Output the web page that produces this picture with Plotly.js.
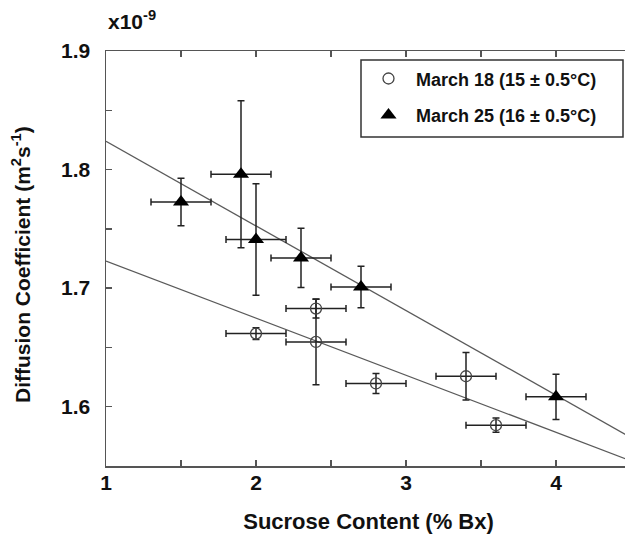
<!DOCTYPE html>
<html>
<head>
<meta charset="utf-8">
<script src="https://cdn.plot.ly/plotly-3.0.1.min.js"></script>
<style>
html, body { margin: 0; padding: 0; overflow: hidden; background: #fff; }
#chart { width: 660px; height: 534px; }
</style>
</head>
<body>
<div id="chart"></div>
<script>
// March 18 (15 ± 0.5°C) – open circles
const mar18X = [2.0, 2.4, 2.4, 2.8, 3.4, 3.6];
const mar18Y = [1.6617, 1.6828, 1.6546, 1.6196, 1.6257, 1.5844];
const mar18ErrY = [0.005, 0.008, 0.036, 0.0085, 0.02, 0.006];
const mar18ErrX = [0.2, 0.2, 0.2, 0.2, 0.2, 0.2];

// March 25 (16 ± 0.5°C) – filled triangles
const mar25X = [1.5, 1.9, 2.0, 2.3, 2.7, 4.0];
const mar25Y = [1.7727, 1.796, 1.741, 1.7255, 1.701, 1.6083];
const mar25ErrY = [0.02, 0.062, 0.047, 0.025, 0.0175, 0.019];
const mar25ErrX = [0.2, 0.2, 0.2, 0.2, 0.2, 0.2];

// fitted lines (end points)
const fitX = [1.0, 4.5];
const fit18Y = [1.7229, 1.5543];
const fit25Y = [1.8239, 1.5740];

const seriesNames = ['March 18 (15 ± 0.5°C)', 'March 25 (16 ± 0.5°C)'];
const xTitle = 'Sucrose Content (% Bx)';
const yTitle = 'Diffusion Coefficient (m<sup>2</sup>s<sup>-1</sup>)';
const exponentLabel = 'x10<sup>-9</sup>';

const FONT = 'Liberation Sans, Arial, Helvetica, sans-serif';
const INK = '#111111';
const AXIS = '#555555';

function errBar(arr) {
  return { type: 'data', array: arr, visible: true, color: '#222222', thickness: 1.5, width: 3.5 };
}

const traces = [
  { x: fitX, y: fit18Y, mode: 'lines', line: { color: '#5a5a5a', width: 1.3 }, showlegend: false, hoverinfo: 'skip' },
  { x: fitX, y: fit25Y, mode: 'lines', line: { color: '#5a5a5a', width: 1.3 }, showlegend: false, hoverinfo: 'skip' },
  {
    x: mar18X, y: mar18Y, name: seriesNames[0], mode: 'markers', legendgroup: 'a',
    marker: { symbol: 'circle-open', size: 11, color: '#444444', line: { width: 1.3, color: '#444444' } },
    error_y: errBar(mar18ErrY), error_x: errBar(mar18ErrX)
  },
  {
    x: mar25X, y: mar25Y, name: seriesNames[1], mode: 'markers', legendgroup: 'b',
    marker: { symbol: 'triangle-up', size: 14, color: '#000000' },
    error_y: errBar(mar25ErrY), error_x: errBar(mar25ErrX)
  }
];

const axisCommon = {
  showgrid: false, zeroline: false,
  showline: true, linecolor: AXIS, linewidth: 1.5, mirror: 'ticks',
  ticks: 'inside', ticklen: 6, tickwidth: 1.5, tickcolor: AXIS,
  tickfont: { family: FONT, size: 21, color: INK, weight: 'bold' }
};

const layout = {
  width: 660, height: 534,
  margin: { l: 106, r: 29, t: 51, b: 68 },
  paper_bgcolor: '#ffffff', plot_bgcolor: '#ffffff',
  showlegend: true,
  xaxis: Object.assign({}, axisCommon, {
    range: [1, 4.5], tick0: 1, dtick: 1,
    minor: { dtick: 0.5, ticks: 'inside', ticklen: 6, tickcolor: AXIS, tickwidth: 1.5 },
    ticklabelstandoff: -3,
    title: { text: xTitle, standoff: 27, font: { family: FONT, size: 22, color: INK, weight: 'bold' } }
  }),
  yaxis: Object.assign({}, axisCommon, {
    range: [1.55, 1.9], tick0: 1.6, dtick: 0.1, tickformat: '.1f',
    minor: { dtick: 0.05, ticks: 'inside', ticklen: 6, tickcolor: AXIS, tickwidth: 1.5 },
    ticklabelstandoff: 10
  }),
  legend: {
    x: 0.4857, y: 0.9776, xanchor: 'left', yanchor: 'top',
    bgcolor: 'rgba(0,0,0,0)', borderwidth: 0,
    font: { family: FONT, size: 18, color: INK, weight: 'bold' },
    traceorder: 'grouped', tracegroupgap: 10, itemwidth: 45
  },
  shapes: [{
    type: 'rect', xref: 'paper', yref: 'paper',
    x0: (361 - 106) / 525, x1: (623 - 106) / 525,
    y0: (466 - 137) / 415, y1: (466 - 60) / 415,
    line: { color: '#333333', width: 1.5 }, fillcolor: 'rgba(0,0,0,0)', layer: 'above'
  }],
  annotations: [
    {
      xref: 'paper', yref: 'paper', x: 0.0, y: 1.074, xanchor: 'left', yanchor: 'middle',
      text: exponentLabel, showarrow: false,
      font: { family: FONT, size: 21, color: INK, weight: 'bold' }
    },
    {
      xref: 'paper', yref: 'paper', x: (21 - 106) / 525, y: (466 - 265) / 415,
      xanchor: 'center', yanchor: 'middle', textangle: -90,
      text: yTitle, showarrow: false,
      font: { family: FONT, size: 21, color: INK, weight: 'bold' }
    }
  ]
};

Plotly.newPlot('chart', traces, layout, { displayModeBar: false, staticPlot: true });
</script>
</body>
</html>
